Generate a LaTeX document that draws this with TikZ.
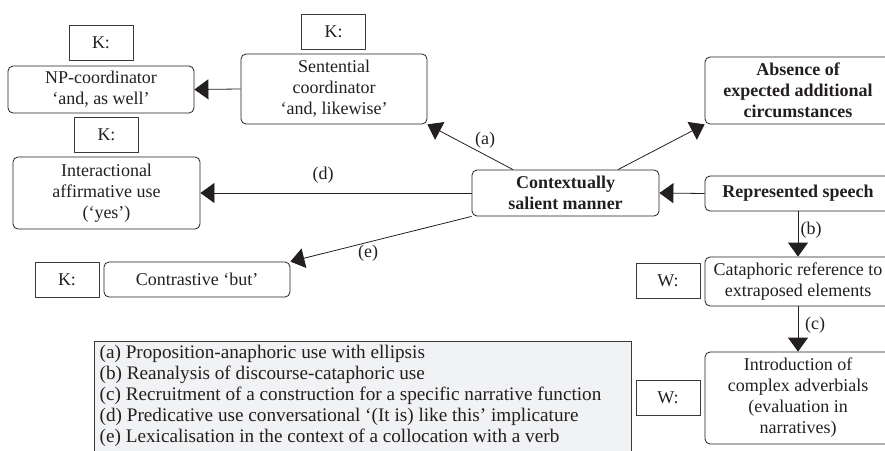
\documentclass[tikz,border=0pt]{standalone}
\usepackage{fontspec}
\setmainfont{Liberation Serif}
\usetikzlibrary{arrows.meta}
\definecolor{ink}{HTML}{231F20}
\definecolor{legfill}{HTML}{F1F2F4}
\definecolor{boxline}{HTML}{3A3A3A}
\begin{document}
\begin{tikzpicture}[x=1pt,y=-1pt,
  every node/.style={font=\fontsize{18}{21}\selectfont, text=ink},
  bld/.style={font=\fontsize{18}{21}\selectfont\bfseries},
  rbox/.style={draw=ink, line width=0.8pt, rounded corners=5pt, align=center, inner sep=0pt},
  lbox/.style={draw=boxline, line width=0.8pt, inner sep=0pt, minimum width=64pt, minimum height=35pt},
  arr/.style={draw=ink, line width=0.8pt, -{Triangle[length=14pt,width=20pt]}},
  lab/.style={inner sep=1pt},
  legbox/.style={draw=boxline, fill=legfill, line width=0.8pt}
]
\useasboundingbox (0,0) rectangle (885,450);
\clip (0,0) rectangle (885,450);

% left column
\node[lbox] (kA) at (101,42.5) {K:};
\node[rbox, minimum width=186pt, minimum height=47pt] (np) at (101,89.5) {NP-coordinator\\‘and, as well’};
\node[lbox] (kB) at (333.5,31.5) {K:};
\node[rbox, minimum width=186pt, minimum height=70pt] (sent) at (334,89) {Sentential\\coordinator\\‘and, likewise’};
\node[lbox] (kC) at (106.5,134.5) {K:};
\node[rbox, minimum width=187pt, minimum height=72pt] (inter) at (106.5,193) {Interactional\\affirmative use\\(‘yes’)};
\node[lbox] (kD) at (67,279.5) {K:};
\node[rbox, minimum width=186pt, minimum height=35pt] (contr) at (197,279.5) {Contrastive ‘but’};

% centre
\node[rbox, bld, minimum width=187pt, minimum height=46pt] (ctx) at (565.5,193) {Contextually\\salient manner};

% right column
\node[rbox, bld, minimum width=186pt, minimum height=67pt] (abs) at (798,90.5) {Absence of\\expected additional\\circumstances};
\node[rbox, bld, minimum width=186pt, minimum height=35pt] (rep) at (798,193.5) {Represented speech};
\node[lbox] (kW1) at (668,280.5) {W:};
\node[rbox, minimum width=186pt, minimum height=49pt] (cata) at (798,281.5) {Cataphoric reference to\\extraposed elements};
\node[lbox] (kW2) at (668,398) {W:};
\node[rbox, minimum width=186pt, minimum height=92pt] (intro) at (798,398) {Introduction of\\complex adverbials\\(evaluation in\\narratives)};

% legend
\draw[legbox] (94,341) rectangle (631,470);
\node[anchor=north west, align=left, inner xsep=5.5pt, inner ysep=3.5pt, font=\fontsize{19.2}{21}\selectfont] (leg) at (94,341) {%
(a) Proposition-anaphoric use with ellipsis\\
(b) Reanalysis of discourse-cataphoric use\\
(c) Recruitment of a construction for a specific narrative function\\
(d) Predicative use conversational ‘(It is) like this’ implicature\\
(e) Lexicalisation in the context of a collocation with a verb};

% connectors
\draw[arr] (sent.west) -- (np.east);
\draw[arr] ([xshift=-52.5pt]ctx.north) -- (sent.south east);
\draw[arr] ([xshift=52.5pt]ctx.north) -- (abs.south west);
\draw[arr] (ctx.west) -- (inter.east);
\draw[arr] (ctx.south west) -- (contr.north east);
\draw[arr] (rep.west) -- (ctx.east);
\draw[arr] (rep.south) -- (cata.north);
\draw[arr] (cata.south) -- (intro.north);

% labels
\node[lab] (la) at (485,140) {(a)};
\node[lab] (lb) at (811,230) {(b)};
\node[lab] (lc) at (815,325) {(c)};
\node[lab] (ld) at (323,175) {(d)};
\node[lab] (le) at (368,253) {(e)};
\end{tikzpicture}
\end{document}
